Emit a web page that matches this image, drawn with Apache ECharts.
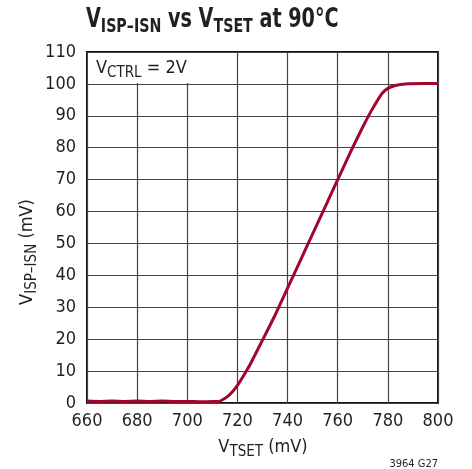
<!DOCTYPE html>
<html>
<head>
<meta charset="utf-8">
<script src="https://cdn.jsdelivr.net/npm/echarts@6/dist/echarts.min.js"></script>
<style>
  html, body { margin: 0; padding: 0; background: #fff; }
  #chart { width: 472px; height: 469px; }
</style>
</head>
<body>
<div id="chart"></div>
<script>
  // V_TSET (mV) and V_ISP-ISN (mV)
  const vTset = [660, 665, 670, 675, 680, 685, 690, 695, 700, 705, 710, 713, 716, 718, 720, 722, 725, 730, 735, 740, 745, 750, 755, 760, 765, 770, 773, 776, 778, 780, 783, 787, 795, 800];
  const vIsp = [0.6, 0.5, 0.6, 0.5, 0.6, 0.5, 0.6, 0.5, 0.5, 0.4, 0.5, 0.6, 2, 3.5, 5.5, 8, 12, 19.7, 27.5, 36, 44.5, 53, 61.5, 70, 78.5, 86.5, 91, 95, 97.3, 98.6, 99.5, 100, 100.1, 100.1];
  const xTicks = [660, 680, 700, 720, 740, 760, 780, 800];
  const yTicks = [0, 10, 20, 30, 40, 50, 60, 70, 80, 90, 100, 110];

  const FONT = "'Liberation Sans Narrow', 'DejaVu Sans Condensed', 'Liberation Sans', sans-serif";
  const INK = '#231f20';

  const chart = echarts.init(document.getElementById('chart'), null, { renderer: 'canvas' });

  const sub = (size, drop) => ({ fontFamily: FONT, fontSize: size, lineHeight: size, padding: [drop, 0, 0, 0], verticalAlign: 'top', fill: INK });
  const main = size => ({ fontFamily: FONT, fontSize: size, lineHeight: size, verticalAlign: 'top', fill: INK });

  const option = {
    animation: false,
    backgroundColor: '#fff',
    grid: {
      left: 87, right: 34, top: 52, bottom: 66,
      show: true, borderColor: '#111', borderWidth: 2, backgroundColor: 'transparent'
    },
    xAxis: {
      type: 'value',
      min: xTicks[0], max: xTicks[xTicks.length - 1], interval: 20,
      axisLine: { show: false },
      axisTick: { show: false },
      axisLabel: { color: INK, fontFamily: FONT, fontSize: 18, margin: 9 },
      splitLine: { show: true, lineStyle: { color: '#444', width: 1.2 } }
    },
    yAxis: {
      type: 'value',
      min: yTicks[0], max: yTicks[yTicks.length - 1], interval: 10,
      axisLine: { show: false },
      axisTick: { show: false },
      axisLabel: { color: INK, fontFamily: FONT, fontSize: 18, margin: 11 },
      splitLine: { show: true, lineStyle: { color: '#444', width: 1.2 } }
    },
    series: [{
      type: 'line',
      data: vTset.map((x, i) => [x, vIsp[i]]),
      showSymbol: false,
      smooth: 0.15,
      lineStyle: { color: '#a0062e', width: 3 },
      z: 5
    }],
    graphic: [
      {
        type: 'text', x: 86, y: 6, scaleX: 0.79,
        style: {
          text: '{m|V}{s|ISP–ISN}{m| vs V}{s|TSET}{m| at 90°C}',
          align: 'left', verticalAlign: 'top',
          rich: {
            m: Object.assign(main(27), { fontWeight: 'bold' }),
            s: Object.assign(sub(20, 11), { fontWeight: 'bold' })
          }
        }
      },
      {
        type: 'text', left: 88, top: 53, z: 10,
        style: {
          text: '{m|V}{s|CTRL}{m| = 2V}',
          backgroundColor: '#fff',
          padding: [6, 9, 6, 8],
          rich: { m: main(18), s: sub(15, 7) }
        }
      },
      {
        type: 'text', x: 263, y: 447,
        style: {
          text: '{m|V}{s|TSET}{m| (mV)}',
          align: 'center', verticalAlign: 'middle',
          rich: { m: main(18), s: sub(15, 7) }
        }
      },
      {
        type: 'text', x: 27, y: 252, rotation: Math.PI / 2,
        style: {
          text: '{m|V}{s|ISP–ISN}{m| (mV)}',
          align: 'center', verticalAlign: 'middle',
          rich: { m: main(18), s: sub(15, 7) }
        }
      },
      {
        type: 'text', right: 34, top: 459,
        style: { text: '3964 G27', fontFamily: FONT, fontSize: 11, fill: INK }
      }
    ]
  };

  chart.setOption(option);
</script>
</body>
</html>
